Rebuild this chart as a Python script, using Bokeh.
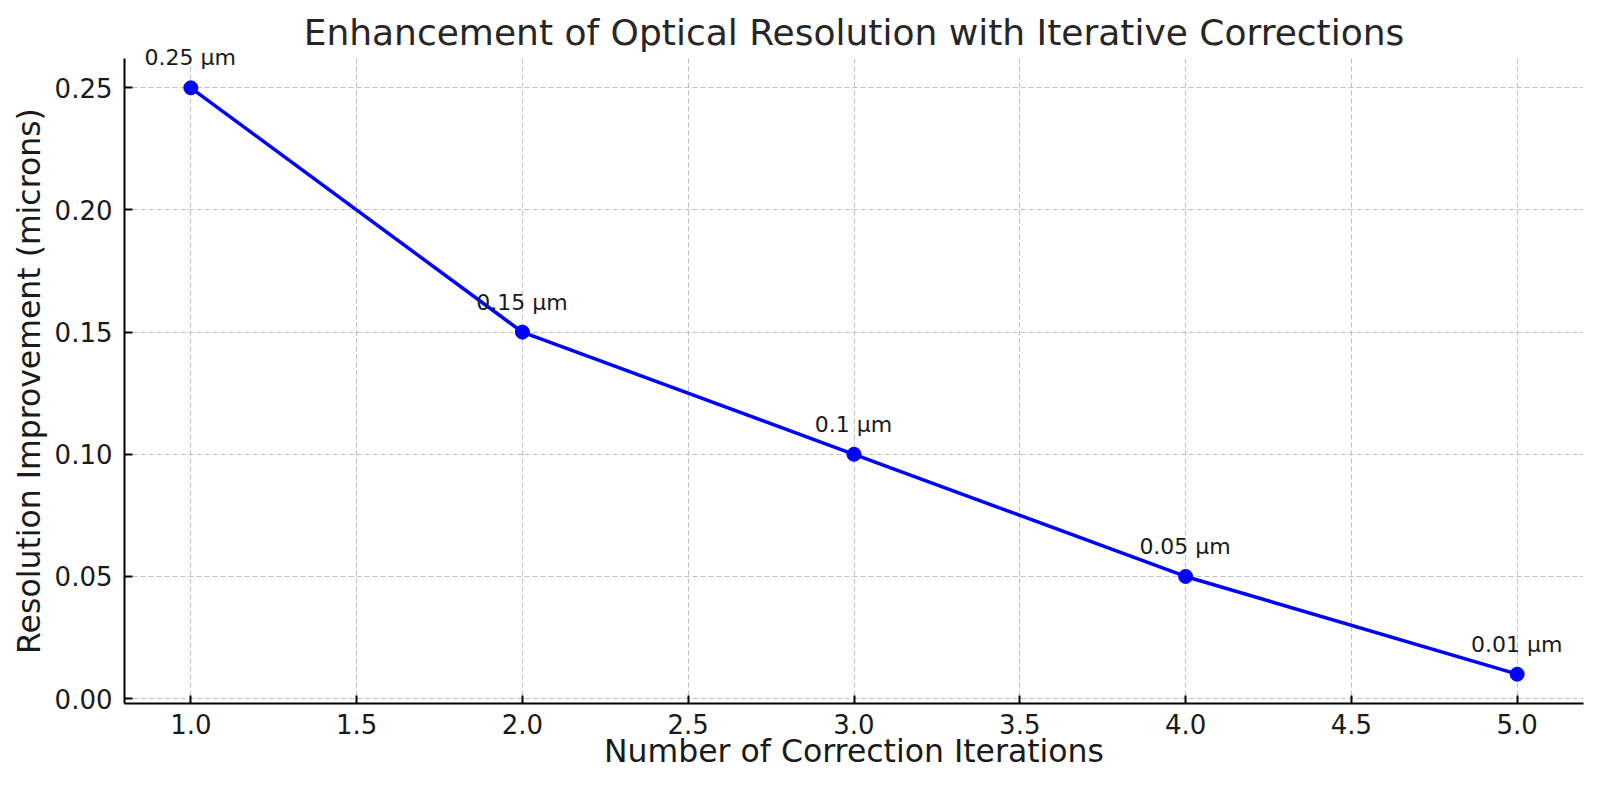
from bokeh.plotting import figure
from bokeh.models import FixedTicker, Range1d, ColumnDataSource, NumeralTickFormatter
from bokeh.models import HTMLLabelSet
from bokeh.core.properties import value
from bokeh.embed import file_html
from bokeh.resources import INLINE

iterations = [1, 2, 3, 4, 5]
improvement = [0.25, 0.15, 0.10, 0.05, 0.01]
point_labels = [f"{v} \u00b5m" for v in improvement]
x_ticks = [1.0, 1.5, 2.0, 2.5, 3.0, 3.5, 4.0, 4.5, 5.0]
y_ticks = [0.00, 0.05, 0.10, 0.15, 0.20, 0.25]
x_min, x_max = 0.8, 5.2
y_min, y_max = -0.002, 0.262

FONT = "DejaVu Sans"

p = figure(width=1584, height=776, output_backend="svg", toolbar_location=None,
           x_range=Range1d(x_min, x_max), y_range=Range1d(y_min, y_max),
           min_border_left=124, min_border_right=1, min_border_top=58, min_border_bottom=73,
           title="Enhancement of Optical Resolution with Iterative Corrections")

p.title.text_font = FONT
p.title.text_font_size = "36px"
p.title.text_font_style = "normal"
p.title.text_color = "#262626"
p.title.align = "center"
p.title.standoff = 12

p.outline_line_color = None
p.background_fill_color = "white"
p.border_fill_color = "white"

for ax in (p.xaxis, p.yaxis):
    ax.axis_line_color = "black"
    ax.axis_line_width = 2
    ax.major_tick_line_color = "black"
    ax.major_tick_line_width = 2
    ax.major_tick_in = 8
    ax.major_tick_out = 0
    ax.minor_tick_line_color = None
    ax.major_label_text_font = FONT
    ax.major_label_text_font_size = "26px"
    ax.major_label_text_color = "#1a1a1a"
    ax.axis_label_text_font = FONT
    ax.axis_label_text_font_size = "31.5px"
    ax.axis_label_text_font_style = "normal"
    ax.axis_label_text_color = "#1a1a1a"

p.xaxis.axis_label = "Number of Correction Iterations"
p.yaxis.axis_label = "Resolution Improvement (microns)"
p.xaxis.major_label_standoff = 10
p.yaxis.major_label_standoff = 12
p.xaxis.axis_label_standoff = -4
p.yaxis.axis_label_standoff = 5
p.xaxis.ticker = FixedTicker(ticks=x_ticks)
p.yaxis.ticker = FixedTicker(ticks=y_ticks)
p.xaxis.formatter = NumeralTickFormatter(format="0.0")
p.yaxis.formatter = NumeralTickFormatter(format="0.00")

for g in (p.xgrid, p.ygrid):
    g.grid_line_color = "#b0b0b0"
    g.grid_line_alpha = 0.8
    g.grid_line_width = 1
    g.grid_line_dash = "5 3"

src = ColumnDataSource(dict(x=iterations, y=improvement, label=point_labels))
p.line("x", "y", source=src, line_color="#0000ff", line_width=3.5)
p.scatter("x", "y", source=src, size=14, fill_color="#0000ff", line_color="#0000ff")
labels = HTMLLabelSet(x="x", y="y", text="label", source=src, text_font=value(FONT),
                      text_font_size="22px", text_color="#1a1a1a", text_align="center",
                      text_baseline="alphabetic", y_offset=30)
p.add_layout(labels)

open("out.html", "w").write(file_html(p, INLINE))
